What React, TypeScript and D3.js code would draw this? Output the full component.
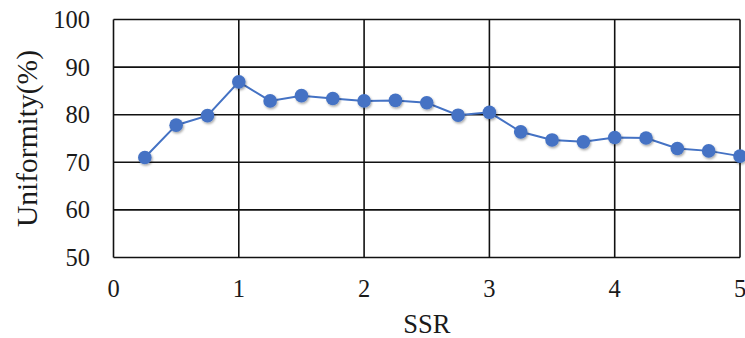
import React from "react";
import * as d3 from "d3";

const ssr = [0.25, 0.5, 0.75, 1, 1.25, 1.5, 1.75, 2, 2.25, 2.5, 2.75, 3, 3.25, 3.5, 3.75, 4, 4.25, 4.5, 4.75, 5];
const uniformity = [71.0, 77.8, 79.8, 86.9, 82.9, 84.0, 83.4, 82.9, 83.0, 82.5, 79.9, 80.5, 76.4, 74.7, 74.3, 75.2, 75.1, 72.9, 72.4, 71.3];
const xTicks = [0, 1, 2, 3, 4, 5];
const yTicks = [50, 60, 70, 80, 90, 100];
const xTitle = "SSR";
const yTitle = "Uniformity(%)";

const W = 745;
const H = 338;
const left = 113.5;
const right = 740;
const top = 19.5;
const bottom = 257.5;
const font = "'Liberation Serif', 'Times New Roman', serif";
const blue = "#4472C4";

export default function App() {
  const x = d3.scaleLinear().domain([0, 5]).range([left, right]);
  const y = d3.scaleLinear().domain([50, 100]).range([bottom, top]);
  const pts = ssr.map((s, i) => [s, uniformity[i]] as [number, number]);
  const line = d3
    .line<[number, number]>()
    .x((d) => x(d[0]))
    .y((d) => y(d[1]));

  return (
    <svg
      width={W}
      height={H}
      style={{ position: "absolute", left: 0, top: 0, background: "#fff" }}
    >
      <defs>
        <filter id="mshadow" x="-50%" y="-50%" width="200%" height="200%">
          <feDropShadow dx="1" dy="1.5" stdDeviation="1.2" floodColor="#000" floodOpacity="0.35" />
        </filter>
      </defs>
      <rect x={0} y={0} width={W} height={H} fill="#fff" />
      {/* horizontal grid */}
      {yTicks.map((t) => (
        <line key={"h" + t} x1={left} x2={right} y1={y(t)} y2={y(t)} stroke="#111" strokeWidth={1.6} />
      ))}
      {/* vertical grid */}
      {xTicks.map((t) => (
        <line key={"v" + t} x1={x(t)} x2={x(t)} y1={top} y2={bottom} stroke="#111" strokeWidth={1.6} />
      ))}
      {/* y tick labels */}
      {yTicks.map((t) => (
        <text
          key={"yl" + t}
          x={90}
          y={y(t)}
          dy="0.35em"
          textAnchor="end"
          fontFamily={font}
          fontSize={24.5}
          fill="#1a1a1a"
        >
          {t}
        </text>
      ))}
      {/* x tick labels */}
      {xTicks.map((t) => (
        <text
          key={"xl" + t}
          x={x(t)}
          y={296.5}
          textAnchor="middle"
          fontFamily={font}
          fontSize={24.5}
          fill="#1a1a1a"
        >
          {t}
        </text>
      ))}
      <text
        x={(left + right) / 2}
        y={332.5}
        textAnchor="middle"
        fontFamily={font}
        fontSize={26.5}
        fill="#1a1a1a"
      >
        {xTitle}
      </text>
      <text
        transform={`translate(37, ${(top + bottom) / 2}) rotate(-90)`}
        textAnchor="middle"
        fontFamily={font}
        fontSize={29.5}
        fill="#1a1a1a"
      >
        {yTitle}
      </text>
      {/* series */}
      <path d={line(pts) || ""} fill="none" stroke={blue} strokeWidth={2} />
      <g filter="url(#mshadow)">
        {pts.map((d, i) => (
          <circle key={i} cx={x(d[0])} cy={y(d[1])} r={6.8} fill={blue} />
        ))}
      </g>
    </svg>
  );
}
